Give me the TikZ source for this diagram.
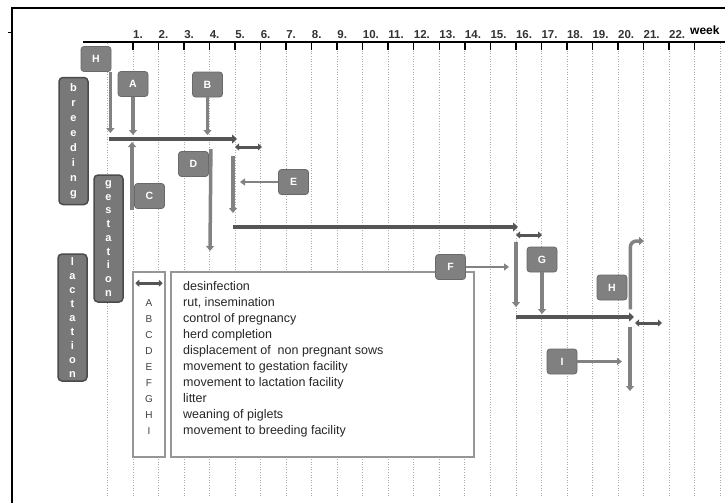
\documentclass[tikz,border=0pt]{standalone}
\usepackage{fontspec}
\setmainfont{Liberation Sans}
\usetikzlibrary{arrows.meta,positioning,calc}
\definecolor{lblgray}{RGB}{128,128,128}
\definecolor{lbledge}{RGB}{105,105,105}
\definecolor{rowgray}{RGB}{120,120,120}
\definecolor{rowedge}{RGB}{75,75,75}
\definecolor{phasegray}{RGB}{85,85,85}
\definecolor{movegray}{RGB}{130,130,130}
\definecolor{gridgray}{RGB}{170,170,170}
\definecolor{boxline}{RGB}{150,150,150}
\definecolor{numgray}{RGB}{50,50,50}

\begin{document}
\begin{tikzpicture}[
    x=1pt, y=-1pt,
    lbl/.style={rectangle, draw=lbledge, fill=lblgray, rounded corners=3pt, minimum width=30pt, minimum height=25pt, inner sep=0pt, line width=0.8pt, text=white, font=\bfseries\fontsize{10.5}{12}\selectfont},
    rowlbl/.style={rectangle, draw=rowedge, fill=rowgray, rounded corners=4pt, minimum width=29pt, minimum height=127pt, inner sep=0pt, line width=1.5pt, text=white, align=center, font=\bfseries\fontsize{11}{#1}\selectfont},
    weeknum/.style={anchor=base west, inner sep=0pt, text=numgray, font=\bfseries\fontsize{11.5}{12}\selectfont},
    gridline/.style={draw=gridgray, dotted, line width=0.6pt},
    phasearrow/.style={draw=phasegray, line width=4pt, -{Triangle[length=5pt, width=9pt]}},
    movearrow/.style={draw=movegray, line width=3.5pt, -{Triangle[length=5pt, width=8pt]}},
    sidearrow/.style={draw=movegray, line width=2.5pt, -{Triangle[length=5pt, width=7pt]}},
    cleanarrow/.style={draw=phasegray, line width=3pt, {Triangle[length=4pt, width=7pt]}-{Triangle[length=4pt, width=7pt]}},
    legbox/.style={rectangle, draw=boxline, fill=white, line width=1.5pt, inner sep=0pt},
    legtext/.style={anchor=base west, inner sep=0pt, text=black!85, font=\fontsize{12.5}{16}\selectfont},
    keytext/.style={anchor=base, inner sep=0pt, text=black!75, font=\fontsize{10}{12}\selectfont}
]
    \useasboundingbox (0,0) rectangle (725,503);

    % time axis
    \foreach \k in {0,...,24}
        \draw[gridline] ({107.5+\k*25.52},43) -- ({107.5+\k*25.52},497);
    \draw[line width=2.5pt] (12,503) -- (12,8) -- (725,8);
    \draw[line width=1pt] (8,33) -- (12,33);
    \draw[line width=1.5pt] (83,42) -- (725,42);
    \foreach \k in {1,...,23}
        \draw[line width=1.5pt] ({107.5+\k*25.52},42) -- ++(0,8);
    \foreach \n in {1,...,22}
        \node[weeknum] (w\n) at ({107.5+\n*25.52},38) {\n.};
    \node[weeknum, text=black, font=\bfseries\fontsize{12}{12}\selectfont] (wk) at (690,35) {week};

    % legend
    \node[legbox, minimum width=32pt, minimum height=185pt] (key) at (149,364.5) {};
    \node[legbox, minimum width=303pt, minimum height=185pt] (desc) at (322.5,364.5) {};
    \draw[cleanarrow, line width=2.5pt] ([xshift=3pt,yshift=-12pt]key.north west) -- ([xshift=-3pt,yshift=-12pt]key.north east);
    \node[legtext] (d0) at (183,290.5) {desinfection};
    \foreach \l/\t [count=\i] in {A/{rut, insemination}, B/control of pregnancy, C/herd completion,
        D/{displacement of~ non pregnant sows}, E/movement to gestation facility,
        F/movement to lactation facility, G/litter, H/weaning of piglets, I/movement to breeding facility}{
        \node[legtext] (d\i) at (183,{290.5+16*\i}) {\t};
        \node[keytext] (k\i) at (149,{290.5+16*\i}) {\l};
    }

    % phases
    \coordinate (brS) at (109,139);
    \coordinate (brE) at (237,139);
    \coordinate (gsIn) at (233,156);
    \coordinate (gsS) at (233,227);
    \coordinate (gsE) at (518,227);
    \coordinate (laIn) at (516,242);
    \coordinate (laS) at (516,317);
    \coordinate (laE) at (634,317);
    \coordinate (dOut) at (210,251);
    \coordinate (h2E) at (644,241);
    \coordinate (bsIn) at (630,327);
    \coordinate (bsOut) at (630,391);

    \draw[phasearrow] (brS) -- (brE);
    \draw[phasearrow] (gsS) -- (gsE);
    \draw[phasearrow] (laS) -- (laE);
    \draw[cleanarrow] ([xshift=-2pt,yshift=-8pt]brE) -- ([xshift=25pt,yshift=-8pt]brE);
    \draw[cleanarrow] ([xshift=-2pt,yshift=-8pt]gsE) -- ([xshift=24pt,yshift=-8pt]gsE);
    \draw[cleanarrow] ([xshift=1pt,yshift=-6pt]laE) -- ([xshift=28pt,yshift=-6pt]laE);

    % events
    \node[lbl] (H1) at (96,59) {H};
    \node[lbl] (A) at (133,84) {A};
    \node[lbl] (B) at (207.5,84.5) {B};
    \node[lbl] (C) at (149.5,196) {C};
    \node[lbl] (D) at (193.5,164) {D};
    \node[lbl] (E) at (293.5,182) {E};
    \node[lbl] (F) at (450.5,267) {F};
    \node[lbl] (G) at (542,259.5) {G};
    \node[lbl] (H2) at (612,287.5) {H};
    \node[lbl] (I) at (562,361.5) {I};

    \draw[movearrow, line width=3pt, shorten >=6pt] ([xshift=-1pt]H1.south east) -- ([xshift=-1pt]H1.south east |- brS);
    \draw[movearrow, shorten >=4pt] (A) -- (A |- brS);
    \draw[movearrow, shorten >=4pt] (B) -- (B |- brS);
    \draw[movearrow, shorten >=3pt] ([xshift=-2pt,yshift=-1.5pt]C.south west) -- ([xshift=-2pt]C.south west |- brS);
    \draw[movearrow] ([xshift=2pt,yshift=2pt]D.north east) -- (dOut);
    \draw[movearrow, shorten >=14pt] (gsIn) -- (gsS);
    \draw[sidearrow, shorten >=7pt] (E) -- (E -| gsIn);
    \draw[sidearrow, shorten >=7pt] (F) -- (F -| laIn);
    \draw[movearrow, shorten >=10pt] (laIn) -- (laS);
    \draw[movearrow, shorten >=3pt] (G) -- (G |- laS);
    \draw[movearrow, rounded corners=6pt] ([xshift=3pt,yshift=-9pt]H2.south east) |- (h2E);
    \draw[movearrow] (bsIn) -- (bsOut);
    \draw[sidearrow, shorten >=8pt] (I) -- (I -| bsIn);

    % rows
    \node[rowlbl=15] (breed) at (73.5,141) {b\\r\\e\\e\\d\\i\\n\\g};
    \node[rowlbl=13.75] (gest) at (108.5,238.5) {g\\e\\s\\t\\a\\t\\i\\o\\n};
    \node[rowlbl=14] (lact) at (72.5,317.5) {l\\a\\c\\t\\a\\t\\i\\o\\n};
\end{tikzpicture}
\end{document}
